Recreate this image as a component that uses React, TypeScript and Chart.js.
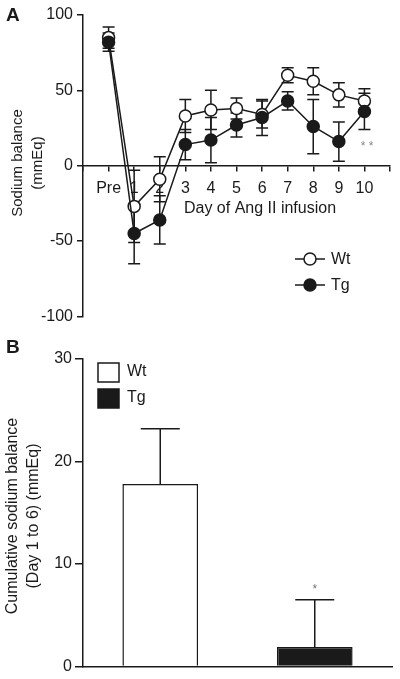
import React, { useEffect, useRef } from "react";
import { Chart, registerables } from "chart.js";

Chart.register(...registerables);

const FONT = "'Liberation Sans', Arial, Helvetica, sans-serif";
const INK = "#1a1a1a";

// Panel A data
const dayLabels = ["Pre", "1", "2", "3", "4", "5", "6", "7", "8", "9", "10"];
const wtBalance = [85, -27, -9, 33, 37, 38, 34, 60, 56, 47, 43];
const wtError = [7, 24, 15, 11, 13, 7, 9, 5, 9, 8, 8];
const tgBalance = [82, -45, -36, 14, 17, 27, 32, 43, 26, 16, 36];
const tgError = [6, 20, 16, 10, 15, 8, 12, 6, 18, 13, 12];
const yTicksA = [-100, -50, 0, 50, 100];

// Panel B data
const groups = ["Wt", "Tg"];
const cumulative = [17.8, 1.9];
const cumulativeError = [5.4, 4.6];
const yTicksB = [0, 10, 20, 30];

function font(size: number, weight = "normal") {
  return `${weight} ${size}px ${FONT}`;
}

function ChartA() {
  const ref = useRef<HTMLCanvasElement | null>(null);
  useEffect(() => {
    if (!ref.current) return;
    const errorPlugin = {
      id: "errA",
      beforeDatasetsDraw(chart: any) {
        const { ctx } = chart;
        const xs = chart.scales.x;
        const ys = chart.scales.y;
        const sets = [
          { v: wtBalance, e: wtError },
          { v: tgBalance, e: tgError },
        ];
        ctx.save();
        ctx.strokeStyle = INK;
        ctx.lineWidth = 1.5;
        sets.forEach((s) => {
          s.v.forEach((v, i) => {
            const x = xs.getPixelForValue(i);
            const y1 = ys.getPixelForValue(v + s.e[i]);
            const y2 = ys.getPixelForValue(v - s.e[i]);
            ctx.beginPath();
            ctx.moveTo(x, y1);
            ctx.lineTo(x, y2);
            ctx.moveTo(x - 6, y1);
            ctx.lineTo(x + 6, y1);
            ctx.moveTo(x - 6, y2);
            ctx.lineTo(x + 6, y2);
            ctx.stroke();
          });
        });
        ctx.restore();
      },
      afterDraw(chart: any) {
        const { ctx } = chart;
        ctx.save();
        ctx.fillStyle = INK;
        // panel letter
        ctx.font = font(19, "bold");
        ctx.textAlign = "left";
        ctx.textBaseline = "middle";
        ctx.fillText("A", 6, 16);
        // y title
        ctx.save();
        ctx.translate(18, 163);
        ctx.rotate(-Math.PI / 2);
        ctx.font = font(15);
        ctx.textAlign = "center";
        ctx.textBaseline = "middle";
        ctx.fillText("Sodium balance", 0, 0);
        ctx.fillText("(mmEq)", 0, 20);
        ctx.restore();
        // x title
        ctx.font = font(16);
        ctx.textAlign = "center";
        ctx.textBaseline = "alphabetic";
        ctx.fillText("Day of Ang II infusion", 260, 213);
        // legend
        const items = [
          { label: "Wt", fill: "#ffffff", y: 259 },
          { label: "Tg", fill: INK, y: 285 },
        ];
        items.forEach((it) => {
          ctx.strokeStyle = INK;
          ctx.lineWidth = 1.5;
          ctx.beginPath();
          ctx.moveTo(295, it.y);
          ctx.lineTo(325, it.y);
          ctx.stroke();
          ctx.beginPath();
          ctx.arc(310, it.y, 6, 0, Math.PI * 2);
          ctx.fillStyle = it.fill;
          ctx.fill();
          ctx.stroke();
          ctx.fillStyle = INK;
          ctx.font = font(16);
          ctx.textAlign = "left";
          ctx.textBaseline = "middle";
          ctx.fillText(it.label, 331, it.y + 1);
        });
        // significance
        ctx.fillStyle = "#888";
        ctx.font = font(12);
        ctx.textAlign = "center";
        ctx.textBaseline = "alphabetic";
        ctx.fillText("* *", 367, 150);
        ctx.restore();
      },
    };

    const chart = new Chart(ref.current, {
      type: "line",
      data: {
        datasets: [
          {
            label: "Wt",
            data: wtBalance.map((v, i) => ({ x: i, y: v })),
            borderColor: INK,
            borderWidth: 1.5,
            backgroundColor: "#ffffff",
            pointBackgroundColor: "#ffffff",
            pointBorderColor: INK,
            pointBorderWidth: 1.5,
            pointRadius: 6,
            tension: 0,
            order: 2,
          },
          {
            label: "Tg",
            data: tgBalance.map((v, i) => ({ x: i, y: v })),
            borderColor: INK,
            borderWidth: 1.5,
            backgroundColor: INK,
            pointBackgroundColor: INK,
            pointBorderColor: INK,
            pointBorderWidth: 1.5,
            pointRadius: 6,
            tension: 0,
            order: 1,
          },
        ],
      },
      options: {
        responsive: false,
        animation: false,
        devicePixelRatio: 1,
        layout: { padding: { left: 0, top: 15, right: 10, bottom: 9 } },
        plugins: { legend: { display: false }, tooltip: { enabled: false } },
        scales: {
          x: {
            type: "linear",
            position: { y: 0 } as any,
            min: -1,
            max: 11,
            ticks: {
              stepSize: 1,
              autoSkip: false,
              maxRotation: 0,
              padding: 8,
              color: INK,
              font: { size: 16, family: FONT },
              callback: (v: any) => (v >= 0 && v < dayLabels.length ? dayLabels[v] : ""),
            },
            grid: { drawOnChartArea: false, tickLength: 5, color: INK, lineWidth: 1.5 },
            border: { display: true, color: INK, width: 1.5 },
          },
          y: {
            type: "linear",
            position: "left",
            min: -100,
            max: 100,
            afterBuildTicks: (s: any) => {
              s.ticks = yTicksA.map((v) => ({ value: v }));
            },
            ticks: {
              padding: 4,
              color: INK,
              font: { size: 16, family: FONT },
            },
            grid: { drawOnChartArea: false, tickLength: 6, color: INK, lineWidth: 1.5 },
            border: { display: true, color: INK, width: 1.5 },
            afterFit: (s: any) => {
              s.width = 83;
            },
          },
        },
      },
      plugins: [errorPlugin],
    } as any);
    return () => chart.destroy();
  }, []);
  return <canvas ref={ref} width={400} height={330} style={{ display: "block" }} />;
}

function ChartB() {
  const ref = useRef<HTMLCanvasElement | null>(null);
  useEffect(() => {
    if (!ref.current) return;
    const errorPlugin = {
      id: "errB",
      afterDatasetsDraw(chart: any) {
        const { ctx } = chart;
        const xs = chart.scales.x;
        const ys = chart.scales.y;
        ctx.save();
        ctx.strokeStyle = INK;
        ctx.lineWidth = 1.5;
        cumulative.forEach((v, i) => {
          const x = xs.getPixelForValue(i);
          const y0 = ys.getPixelForValue(v);
          const y1 = ys.getPixelForValue(v + cumulativeError[i]);
          ctx.beginPath();
          ctx.moveTo(x, y0);
          ctx.lineTo(x, y1);
          ctx.moveTo(x - 19.5, y1);
          ctx.lineTo(x + 19.5, y1);
          ctx.stroke();
        });
        // significance
        const xt = xs.getPixelForValue(1);
        ctx.fillStyle = "#777";
        ctx.font = font(12);
        ctx.textAlign = "center";
        ctx.textBaseline = "alphabetic";
        ctx.fillText("*", xt, 593 - 330);
        ctx.restore();
      },
      afterDraw(chart: any) {
        const { ctx } = chart;
        ctx.save();
        ctx.fillStyle = INK;
        ctx.font = font(19, "bold");
        ctx.textAlign = "left";
        ctx.textBaseline = "middle";
        ctx.fillText("B", 6, 18);
        // y title
        ctx.save();
        ctx.translate(12.5, 516 - 330);
        ctx.rotate(-Math.PI / 2);
        ctx.font = font(16);
        ctx.textAlign = "center";
        ctx.textBaseline = "middle";
        ctx.fillText("Cumulative sodium balance", 0, 0);
        ctx.fillText("(Day 1 to 6) (mmEq)", 0, 21.5);
        ctx.restore();
        // legend
        const items = [
          { label: "Wt", fill: "#ffffff", y: 363 - 330 },
          { label: "Tg", fill: INK, y: 389 - 330 },
        ];
        items.forEach((it) => {
          ctx.fillStyle = it.fill;
          ctx.fillRect(98, it.y, 21, 19);
          ctx.strokeStyle = INK;
          ctx.lineWidth = 1.5;
          ctx.strokeRect(98, it.y, 21, 19);
          ctx.fillStyle = INK;
          ctx.font = font(16);
          ctx.textAlign = "left";
          ctx.textBaseline = "middle";
          ctx.fillText(it.label, 127, it.y + 9);
        });
        ctx.restore();
      },
    };

    const chart = new Chart(ref.current, {
      type: "bar",
      data: {
        labels: groups,
        datasets: [
          {
            label: "Cumulative sodium balance",
            data: cumulative,
            backgroundColor: ["#ffffff", INK],
            borderColor: INK,
            borderWidth: 1.5,
            barPercentage: 0.49,
            categoryPercentage: 1,
          },
        ],
      },
      options: {
        responsive: false,
        animation: false,
        devicePixelRatio: 1,
        layout: { padding: { left: 0, top: 29, right: 8, bottom: 12 } },
        plugins: { legend: { display: false }, tooltip: { enabled: false } },
        scales: {
          x: {
            type: "category",
            ticks: { display: false },
            grid: { drawOnChartArea: false, drawTicks: false },
            border: { display: true, color: INK, width: 1.5 },
            afterFit: (s: any) => {
              s.height = 0;
            },
          },
          y: {
            type: "linear",
            min: 0,
            max: 30,
            afterBuildTicks: (s: any) => {
              s.ticks = yTicksB.map((v) => ({ value: v }));
            },
            ticks: { padding: 3, color: INK, font: { size: 16, family: FONT } },
            grid: { drawOnChartArea: false, tickLength: 8, color: INK, lineWidth: 1.5 },
            border: { display: true, color: INK, width: 1.5 },
            afterFit: (s: any) => {
              s.width = 83;
            },
          },
        },
      },
      plugins: [errorPlugin],
    } as any);
    return () => chart.destroy();
  }, []);
  return <canvas ref={ref} width={400} height={349} style={{ display: "block" }} />;
}

export default function App() {
  return (
    <div
      style={{
        position: "absolute",
        left: 0,
        top: 0,
        width: 400,
        height: 679,
        background: "#ffffff",
      }}
    >
      <ChartA />
      <ChartB />
    </div>
  );
}
